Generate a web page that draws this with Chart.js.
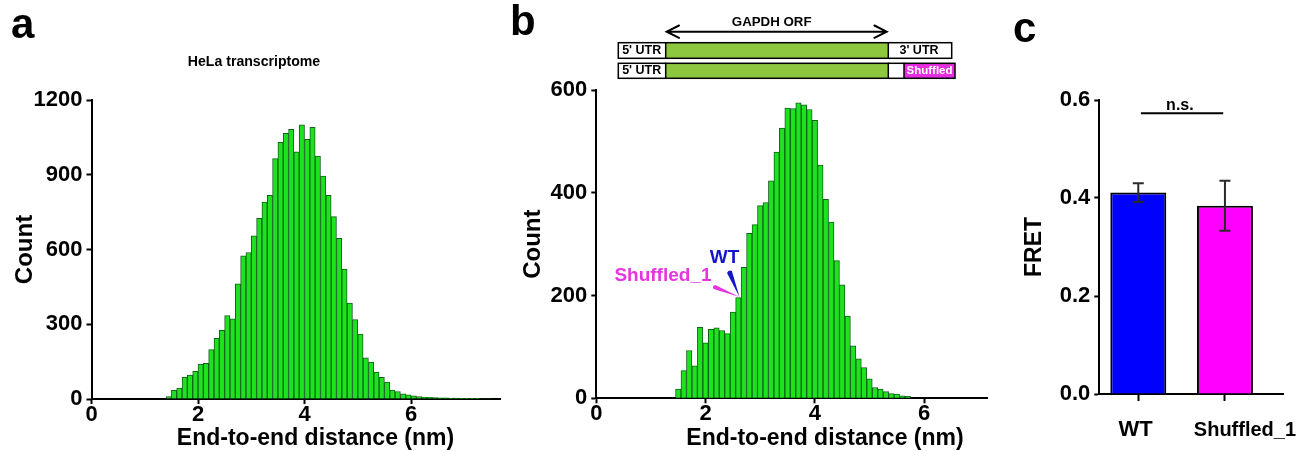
<!DOCTYPE html>
<html><head><meta charset="utf-8">
<script src="https://cdn.jsdelivr.net/npm/chart.js@4.4.1/dist/chart.umd.min.js"></script>
<style>
html,body{margin:0;padding:0;background:#fff;}
body{width:1303px;height:451px;position:relative;overflow:hidden;}
canvas{position:absolute;top:0;}
</style></head><body>
<canvas id="ca" width="520" height="451" style="left:0px"></canvas>
<canvas id="cb" width="495" height="451" style="left:505px"></canvas>
<canvas id="cc" width="303" height="451" style="left:1000px"></canvas>
<script>
// ---------- data ----------
const binWidth = 0.1;
const binStartA = 1.4;   // HeLa transcriptome histogram, first bin edge (nm)
const countsA = [10,35,44,88,96,111,140,143,198,243,276,335,322,462,575,588,655,725,790,817,
  965,1030,1066,1082,992,1100,1042,1090,975,895,817,732,645,521,385,319,261,165,148,108,
  87,68,36,30,21,17,13,10,8,7,6,5,5,4,4,3,3,3,3,2,2];
const binStartB = 1.45;  // GAPDH histogram, first bin edge (nm)
const countsB = [18,54,93,63,138,108,134,137,132,126,168,196,255,321,338,375,381,423,479,526,
  565,564,575,571,562,541,454,387,343,268,221,160,102,77,60,38,21,18,13,9,8,5,4];
const xTicksHist = [0,2,4,6];
const yTicksA = [0,300,600,900,1200];
const yTicksB = [0,200,400,600];
const fretCategories = ['WT','Shuffled_1'];
const fretMeans = [0.411, 0.384];
const fretErrors = [0.019, 0.051];
const fretTicks = [0,0.2,0.4,0.6];
const fretColors = ['#0000ff','#ff00ff'];
const wtPoint = {x:2.62, y:197};   // where the WT / Shuffled_1 arrows point

// ---------- styles ----------
const FONT = '"Liberation Sans", Arial, Helvetica, sans-serif';
Chart.defaults.font.family = FONT;
Chart.defaults.color = '#000';
const HIST_FILL = '#1de21d';
const HIST_EDGE = '#10621a';

function histData(start, counts){
  return counts.map((c,i)=>({x: +(start + binWidth*(i+0.5)).toFixed(3), y:c}));
}
function txt(ctx, s, x, y, font, color, align, baseline){
  ctx.save();
  ctx.font = font; ctx.fillStyle = color || '#000';
  ctx.textAlign = align || 'center'; ctx.textBaseline = baseline || 'middle';
  ctx.fillText(s, x, y);
  ctx.restore();
}
function narrowFont(ctx, size, text, targetW){
  ctx.font = 'bold '+size+'px "Liberation Sans Narrow", monospace';
  const a = ctx.measureText(text).width;
  ctx.font = 'bold '+size+'px monospace';
  const b = ctx.measureText(text).width;
  if (Math.abs(a-b) > 0.5) return 'bold '+size+'px "Liberation Sans Narrow"';
  ctx.font = 'bold '+size+'px '+FONT;
  const w = ctx.measureText(text).width;
  return 'bold '+(size*targetW/w).toFixed(1)+'px '+FONT;
}
function wedge(ctx, bx, by, tx, ty, hw, color){
  const dx = tx-bx, dy = ty-by, L = Math.hypot(dx,dy);
  const nx = -dy/L*hw, ny = dx/L*hw;
  ctx.save(); ctx.fillStyle = color; ctx.beginPath();
  ctx.moveTo(bx+nx, by+ny); ctx.lineTo(tx, ty); ctx.lineTo(bx-nx, by-ny);
  ctx.quadraticCurveTo(bx-dx/L*3, by-dy/L*3, bx+nx, by+ny);
  ctx.closePath(); ctx.fill(); ctx.restore();
}
function axisX(min, max, ticks, height, tickLen){
  return { type:'linear', min:min, max:max, offset:false,
    grid:{offset:false, drawOnChartArea:false, drawTicks:true, tickLength:tickLen||5, tickWidth:2, tickColor:'#000', color:'#000'},
    border:{display:true, color:'#000', width:2},
    ticks:{font:{size:22, weight:'bold', lineHeight:1}, padding:0, color:'#000', maxRotation:0, autoSkip:false},
    afterBuildTicks: s => { s.ticks = ticks.map(v=>({value:v})); },
    afterFit: s => { s.height = height; } };
}
function axisY(min, max, ticks, width, title, tsize, tpad, fmt){
  return { type:'linear', min:min, max:max,
    grid:{drawOnChartArea:false, drawTicks:true, tickLength:5, tickWidth:2, tickColor:'#000', color:'#000'},
    border:{display:true, color:'#000', width:2},
    ticks:{font:{size:22, weight:'bold'}, padding:4, color:'#000', callback: fmt || (v=>v)},
    title:{display:true, text:title, color:'#000', font:{size:tsize, weight:'bold'}, padding:{top:tpad, bottom:0}},
    afterBuildTicks: s => { s.ticks = ticks.map(v=>({value:v})); },
    afterFit: s => { s.width = width; } };
}
const baseOpts = { responsive:false, animation:false, events:[],
  plugins:{legend:{display:false}, tooltip:{enabled:false}} };

// ---------- panel a ----------
new Chart(document.getElementById('ca'), {
  type:'bar',
  data:{datasets:[{data:histData(binStartA, countsA), backgroundColor:HIST_FILL, borderColor:HIST_EDGE,
    borderWidth:1, barPercentage:1, categoryPercentage:1}]},
  options:Object.assign({}, baseOpts, {
    layout:{padding:{left:0, right:19.5, top:100, bottom:0}},
    scales:{ x: axisX(0, 7.68, xTicksHist, 52), y: axisY(0, 1200, yTicksA, 91.5, 'Count', 24, 10.6) }
  }),
  plugins:[{ id:'textA', afterDraw(chart){
    const ctx = chart.ctx;
    txt(ctx, 'a', 11, 38, 'bold 42px '+FONT, '#000', 'left', 'alphabetic');
    txt(ctx, 'HeLa transcriptome', 254, 62, narrowFont(ctx, 18, 'HeLa transcriptome', 132), '#000');
    txt(ctx, 'End-to-end distance (nm)', 315.5, 439, 'bold 23px '+FONT, '#000');
  }}]
});

// ---------- panel b ----------
new Chart(document.getElementById('cb'), {
  type:'bar',
  data:{datasets:[{data:histData(binStartB, countsB), backgroundColor:HIST_FILL, borderColor:HIST_EDGE,
    borderWidth:1, barPercentage:1, categoryPercentage:1}]},
  options:Object.assign({}, baseOpts, {
    layout:{padding:{left:0, right:13, top:90, bottom:0}},
    scales:{ x: axisX(0, 7.15, xTicksHist, 52.7), y: axisY(0, 600, yTicksB, 91.3, 'Count', 24, 13.6) }
  }),
  plugins:[{ id:'textB', afterDraw(chart){
    const ctx = chart.ctx, xs = chart.scales.x, ys = chart.scales.y;
    txt(ctx, 'b', 5, 35, 'bold 42px '+FONT, '#000', 'left', 'alphabetic');
    txt(ctx, 'End-to-end distance (nm)', 320, 439, 'bold 23px '+FONT, '#000');
    // construct diagram
    ctx.save();
    txt(ctx, 'GAPDH ORF', 266.7, 22.5, narrowFont(ctx, 16, 'GAPDH ORF', 80), '#000');
    ctx.strokeStyle = '#000'; ctx.lineWidth = 2; ctx.lineCap = 'round';
    ctx.beginPath();
    ctx.moveTo(161.7, 31.7); ctx.lineTo(381.7, 31.7);
    ctx.moveTo(174, 25.5); ctx.lineTo(161.7, 31.7); ctx.lineTo(174, 37.9);
    ctx.moveTo(369.4, 25.5); ctx.lineTo(381.7, 31.7); ctx.lineTo(369.4, 37.9);
    ctx.stroke();
    ctx.lineWidth = 1.5;
    // row 1
    ctx.fillStyle = '#fff'; ctx.fillRect(113.3, 42.7, 333.4, 15.6);
    ctx.fillStyle = '#8dc63f'; ctx.fillRect(160.7, 42.7, 222.6, 15.6);
    ctx.strokeRect(113.3, 42.7, 333.4, 15.6);
    ctx.beginPath(); ctx.moveTo(160.7,42.7); ctx.lineTo(160.7,58.3); ctx.moveTo(383.3,42.7); ctx.lineTo(383.3,58.3); ctx.stroke();
    // row 2
    ctx.fillStyle = '#fff'; ctx.fillRect(113.3, 63.3, 336.7, 15);
    ctx.fillStyle = '#8dc63f'; ctx.fillRect(160.7, 63.3, 222.6, 15);
    ctx.fillStyle = '#e62ee0'; ctx.fillRect(399, 63.3, 51, 15);
    ctx.strokeRect(113.3, 63.3, 336.7, 15);
    ctx.beginPath(); ctx.moveTo(160.7,63.3); ctx.lineTo(160.7,78.3); ctx.moveTo(383.3,63.3); ctx.lineTo(383.3,78.3);
    ctx.moveTo(399,63.3); ctx.lineTo(399,78.3); ctx.stroke();
    ctx.restore();
    txt(ctx, "5' UTR", 136.7, 50.8, 'bold 12.5px '+FONT, '#000');
    txt(ctx, "3' UTR", 414, 50.8, 'bold 12.5px '+FONT, '#000');
    txt(ctx, "5' UTR", 136.7, 71, 'bold 12.5px '+FONT, '#000');
    txt(ctx, 'Shuffled', 424.5, 71, 'bold 11.5px '+FONT, '#fff');
    // arrows pointing at the WT / Shuffled_1 position
    const tx = xs.getPixelForValue(wtPoint.x), ty = ys.getPixelForValue(wtPoint.y);
    wedge(ctx, tx-10, ty-25, tx, ty, 2.6, '#1414c8');
    wedge(ctx, tx-25, ty-10, tx, ty, 2.2, '#e535e0');
    txt(ctx, 'WT', tx-15, ty-39, 'bold 19px '+FONT, '#1414c8');
    txt(ctx, 'Shuffled_1', tx-76.5, ty-21, 'bold 19px '+FONT, '#e535e0');
  }}]
});

// ---------- panel c ----------
new Chart(document.getElementById('cc'), {
  type:'bar',
  data:{datasets:[{data:fretMeans.map((m,i)=>({x:i, y:m})), backgroundColor:fretColors, borderColor:'#000',
    borderWidth:2, barPercentage:0.646, categoryPercentage:1}]},
  options:Object.assign({}, baseOpts, {
    layout:{padding:{left:0, right:20, top:100, bottom:0}},
    scales:{
      x: Object.assign(axisX(-0.45, 1.67, [0,1], 57, 7), {}),
      y: axisY(0, 0.6, fretTicks, 99.3, 'FRET', 23, 21.2, v=>v.toFixed(1))
    }
  }),
  plugins:[{ id:'textC', beforeInit(chart){
      chart.options.scales.x.ticks.callback = () => '';
    }, afterDraw(chart){
    const ctx = chart.ctx, xs = chart.scales.x, ys = chart.scales.y;
    txt(ctx, 'c', 13, 42, 'bold 42px '+FONT, '#000', 'left', 'alphabetic');
    // error bars
    ctx.save(); ctx.strokeStyle = '#2a2a2a'; ctx.lineWidth = 2;
    fretMeans.forEach((m,i)=>{
      const x = xs.getPixelForValue(i), y1 = ys.getPixelForValue(m+fretErrors[i]), y2 = ys.getPixelForValue(m-fretErrors[i]);
      ctx.beginPath(); ctx.moveTo(x,y1); ctx.lineTo(x,y2);
      ctx.moveTo(x-5.5,y1); ctx.lineTo(x+5.5,y1); ctx.moveTo(x-5.5,y2); ctx.lineTo(x+5.5,y2); ctx.stroke();
    });
    // significance bar
    const sy = ys.getPixelForValue(0.573);
    ctx.strokeStyle = '#000';
    ctx.beginPath(); ctx.moveTo(xs.getPixelForValue(0.03), sy); ctx.lineTo(xs.getPixelForValue(0.98), sy); ctx.stroke();
    ctx.restore();
    txt(ctx, 'n.s.', xs.getPixelForValue(0.48), sy-3, 'bold 16px '+FONT, '#000', 'center', 'alphabetic');
    // category labels
    txt(ctx, fretCategories[0], xs.getPixelForValue(0)-2.6, 430, 'bold 22px '+FONT, '#000');
    txt(ctx, fretCategories[1], xs.getPixelForValue(1)+20, 430, 'bold 20px '+FONT, '#000');
  }}]
});
</script>
</body></html>
